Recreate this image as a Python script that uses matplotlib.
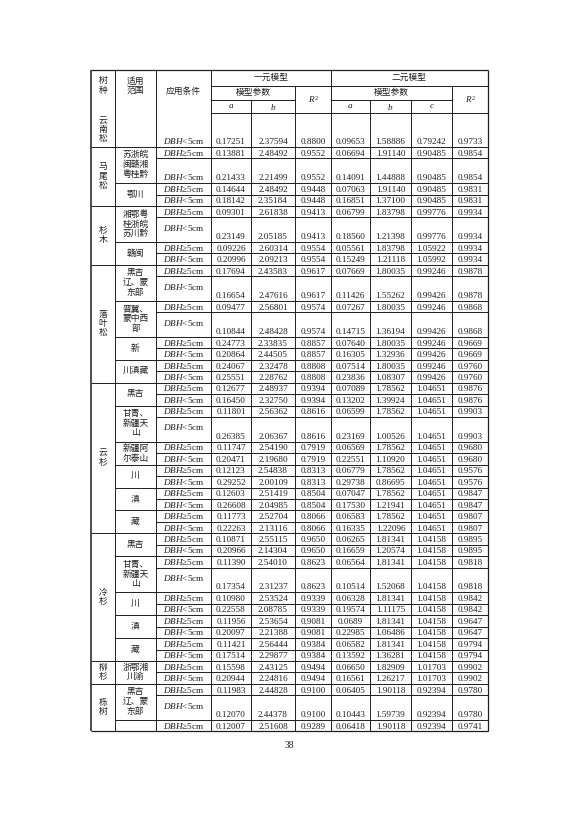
import matplotlib
matplotlib.use("Agg")
import matplotlib.pyplot as plt
import numpy as np

plt.rcParams["font.family"] = ["Liberation Serif", "Noto Sans CJK SC"]
plt.rcParams["mathtext.fontset"] = "custom"
plt.rcParams["mathtext.it"] = "Liberation Serif:italic"
plt.rcParams["mathtext.rm"] = "Liberation Serif"

GE = "$DBH$≥5cm"
LT = "$DBH$<5cm"

# one entry per table row
row_species = ([0] + [1] * 4 + [2] * 4 + [3] * 8 + [4] * 12 + [5] * 10 + [6] * 2 + [7] * 3)
row_range = [0, 1, 1, 2, 2, 3, 3, 4, 4, 5, 5, 6, 6, 7, 7, 8, 8,
             9, 9, 10, 10, 11, 11, 12, 12, 13, 13, 14, 14,
             15, 15, 16, 16, 17, 17, 18, 18, 19, 19, 20, 20, 21, 21, 22]
row_tall = [3, 0, 1, 0, 0, 0, 1, 0, 0, 0, 1, 0, 1, 0, 0, 0, 0,
            0, 0, 0, 1, 0, 0, 0, 0, 0, 0, 0, 0,
            0, 0, 0, 1, 0, 0, 0, 0, 0, 0, 0, 0, 0, 1, 0]
row_cond = [LT] + [GE, LT] * 21 + [GE]

species_names = ["云\n南\n松", "马\n尾\n松", "杉\n木", "落\n叶\n松", "云\n杉", "冷\n杉", "柳\n杉", "栎\n树"]
range_names = ["", "苏浙皖\n闽赣湘\n粤桂黔", "鄂川", "湘鄂粤\n桂浙皖\n苏川黔", "赣闽",
               "黑吉\n辽、蒙\n东部", "晋冀、\n蒙中西\n部", "新", "川滇藏",
               "黑吉", "甘青、\n新疆天\n山", "新疆阿\n尔泰山", "川", "滇", "藏",
               "黑吉", "甘青、\n新疆天\n山", "川", "滇", "藏",
               "浙鄂湘\n川渝", "黑吉\n辽、蒙\n东部", ""]

a1 = ["0.17251", "0.13881", "0.21433", "0.14644", "0.18142", "0.09301", "0.23149", "0.09226", "0.20996",
      "0.17694", "0.16654", "0.09477", "0.10844", "0.24773", "0.20864", "0.24067", "0.25551",
      "0.12677", "0.16450", "0.11801", "0.26385", "0.11747", "0.20471", "0.12123", "0.29252",
      "0.12603", "0.26608", "0.11773", "0.22263",
      "0.10871", "0.20966", "0.11390", "0.17354", "0.10980", "0.22558", "0.11956", "0.20097",
      "0.11421", "0.17514", "0.15598", "0.20944", "0.11983", "0.12070", "0.12007"]
b1 = ["2.37594", "2.48492", "2.21499", "2.48492", "2.35184", "2.61838", "2.05185", "2.60314", "2.09213",
      "2.43583", "2.47616", "2.56801", "2.48428", "2.33835", "2.44505", "2.32478", "2.28762",
      "2.48937", "2.32750", "2.56362", "2.06367", "2.54190", "2.19680", "2.54838", "2.00109",
      "2.51419", "2.04985", "2.52704", "2.13116",
      "2.55115", "2.14304", "2.54010", "2.31237", "2.53524", "2.08785", "2.53654", "2.21388",
      "2.56444", "2.29877", "2.43125", "2.24816", "2.44828", "2.44378", "2.51608"]
r2_1 = ["0.8800", "0.9552", "0.9552", "0.9448", "0.9448", "0.9413", "0.9413", "0.9554", "0.9554",
        "0.9617", "0.9617", "0.9574", "0.9574", "0.8857", "0.8857", "0.8808", "0.8808",
        "0.9394", "0.9394", "0.8616", "0.8616", "0.7919", "0.7919", "0.8313", "0.8313",
        "0.8504", "0.8504", "0.8066", "0.8066",
        "0.9650", "0.9650", "0.8623", "0.8623", "0.9339", "0.9339", "0.9081", "0.9081",
        "0.9384", "0.9384", "0.9494", "0.9494", "0.9100", "0.9100", "0.9289"]
a2 = ["0.09653", "0.06694", "0.14091", "0.07063", "0.16851", "0.06799", "0.18560", "0.05561", "0.15249",
      "0.07669", "0.11426", "0.07267", "0.14715", "0.07640", "0.16305", "0.07514", "0.23836",
      "0.07089", "0.13202", "0.06599", "0.23169", "0.06569", "0.22551", "0.06779", "0.29738",
      "0.07047", "0.17530", "0.06583", "0.16335",
      "0.06265", "0.16659", "0.06564", "0.10514", "0.06328", "0.19574", "0.0689", "0.22985",
      "0.06582", "0.13592", "0.06650", "0.16561", "0.06405", "0.10443", "0.06418"]
b2 = ["1.58886", "1.91140", "1.44888", "1.91140", "1.37100", "1.83798", "1.21398", "1.83798", "1.21118",
      "1.80035", "1.55262", "1.80035", "1.36194", "1.80035", "1.32936", "1.80035", "1.08307",
      "1.78562", "1.39924", "1.78562", "1.00526", "1.78562", "1.10920", "1.78562", "0.86695",
      "1.78562", "1.21941", "1.78562", "1.22096",
      "1.81341", "1.20574", "1.81341", "1.52068", "1.81341", "1.11175", "1.81341", "1.06486",
      "1.81341", "1.36281", "1.82909", "1.26217", "1.90118", "1.59739", "1.90118"]
c2 = ["0.79242", "0.90485", "0.90485", "0.90485", "0.90485", "0.99776", "0.99776", "1.05922", "1.05992",
      "0.99246", "0.99426", "0.99246", "0.99426", "0.99246", "0.99426", "0.99246", "0.99426",
      "1.04651", "1.04651", "1.04651", "1.04651", "1.04651", "1.04651", "1.04651", "1.04651",
      "1.04651", "1.04651", "1.04651", "1.04651",
      "1.04158", "1.04158", "1.04158", "1.04158", "1.04158", "1.04158", "1.04158", "1.04158",
      "1.04158", "1.04158", "1.01703", "1.01703", "0.92394", "0.92394", "0.92394"]
r2_2 = ["0.9733", "0.9854", "0.9854", "0.9831", "0.9831", "0.9934", "0.9934", "0.9934", "0.9934",
        "0.9878", "0.9878", "0.9868", "0.9868", "0.9669", "0.9669", "0.9760", "0.9760",
        "0.9876", "0.9876", "0.9903", "0.9903", "0.9680", "0.9680", "0.9576", "0.9576",
        "0.9847", "0.9847", "0.9807", "0.9807",
        "0.9895", "0.9895", "0.9818", "0.9818", "0.9842", "0.9842", "0.9647", "0.9647",
        "0.9794", "0.9794", "0.9902", "0.9902", "0.9780", "0.9780", "0.9741"]

# layout (pixel units)
COL_X = [91, 115, 156, 211, 251, 295, 331, 370, 411, 452, 488]
TOP, H1, H2, HEAD = 70, 86, 100, 113
ROW_H, TALL_H, FIRST_H = 11.45, 24.6, 34
FS = 6.6
LW = 0.7
INK = "#1e1e1e"

fig = plt.figure(figsize=(5.78, 8.18), dpi=100)
ax = fig.add_axes([0, 0, 1, 1])
ax.set_xlim(0, 578)
ax.set_ylim(818, 0)
ax.axis("off")


def hline(y, x0, x1, lw=LW):
    ax.plot([x0, x1], [y, y], color=INK, lw=lw, solid_capstyle="butt")


def vline(x, y0, y1, lw=LW):
    ax.plot([x, x], [y0, y1], color=INK, lw=lw, solid_capstyle="butt")


def txt(x, y, s, va="center", fs=FS, **kw):
    ax.text(x, y, s, ha="center", va=va, fontsize=fs, color=INK, linespacing=1.2, **kw)


heights = [FIRST_H if t == 3 else (TALL_H if t else ROW_H) for t in row_tall]
edges = HEAD + np.concatenate([[0], np.cumsum(heights)])
bottom = edges[-1]
cx = [(COL_X[i] + COL_X[i + 1]) / 2 for i in range(len(COL_X) - 1)]

# header
hline(TOP, COL_X[0], COL_X[-1], 0.9)
hline(H1, COL_X[3], COL_X[-1])
hline(H2, COL_X[3], COL_X[5])
hline(H2, COL_X[6], COL_X[9])
hline(HEAD, COL_X[3], COL_X[-1])
for x in [COL_X[1], COL_X[2], COL_X[3], COL_X[6]]:
    vline(x, TOP, bottom)
for x in [COL_X[5], COL_X[9]]:
    vline(x, H1, bottom)
for x in [COL_X[4], COL_X[7], COL_X[8]]:
    vline(x, H2, bottom)
vline(COL_X[0], TOP, bottom, 1.1)
vline(COL_X[-1], TOP, bottom, 0.9)
hline(bottom, COL_X[0], COL_X[-1], 0.9)

txt(cx[0], 86, "树\n种", fs=6.3)
txt(cx[1], 86, "适用\n范围", fs=6.3)
txt(cx[2], (TOP + HEAD) / 2, "应用条件", fs=6.3)
txt((COL_X[3] + COL_X[6]) / 2, (TOP + H1) / 2, "一元模型", fs=6.3)
txt((COL_X[6] + COL_X[-1]) / 2, (TOP + H1) / 2, "二元模型", fs=6.3)
txt((COL_X[3] + COL_X[5]) / 2, (H1 + H2) / 2, "模型参数", fs=6.3)
txt((COL_X[6] + COL_X[9]) / 2, (H1 + H2) / 2, "模型参数", fs=6.3)
txt(cx[5], (H1 + HEAD) / 2, "$R^2$")
txt(cx[9], (H1 + HEAD) / 2, "$R^2$")
for i, s in zip([3, 4, 6, 7, 8], ["$a$", "$b$", "$a$", "$b$", "$c$"]):
    txt(cx[i], (H2 + HEAD) / 2, s)

# body rows
n = len(row_cond)
for i in range(n):
    top, bot = edges[i], edges[i + 1]
    last = i == n - 1
    if not last:
        if row_species[i] != row_species[i + 1]:
            x0 = COL_X[0]
        elif row_range[i] != row_range[i + 1]:
            x0 = COL_X[1]
        else:
            x0 = COL_X[2]
        hline(bot, x0, COL_X[-1])
    at_bottom = row_tall[i] == 3 or i == 2 or not row_tall[i]
    cond_y = bot - 0.8 if at_bottom else (top + bot) / 2 - 2
    txt(cx[2], cond_y, row_cond[i], va="bottom" if at_bottom else "center")
    for j, col in zip(range(3, 10), [a1, b1, r2_1, a2, b2, c2, r2_2]):
        txt(cx[j], bot - 0.8, col[i], va="bottom")

rs = np.array(row_species)
rr = np.array(row_range)
for k, name in enumerate(species_names):
    idx = np.where(rs == k)[0]
    txt(cx[0], (edges[idx[0]] + edges[idx[-1] + 1]) / 2, name, fs=6.3)
for k, name in enumerate(range_names):
    idx = np.where(rr == k)[0]
    if name:
        txt(cx[1], (edges[idx[0]] + edges[idx[-1] + 1]) / 2, name, fs=6.3)

txt(289, bottom + 14, "38", fs=7)

fig.savefig("out.png", dpi=100, facecolor="white")
